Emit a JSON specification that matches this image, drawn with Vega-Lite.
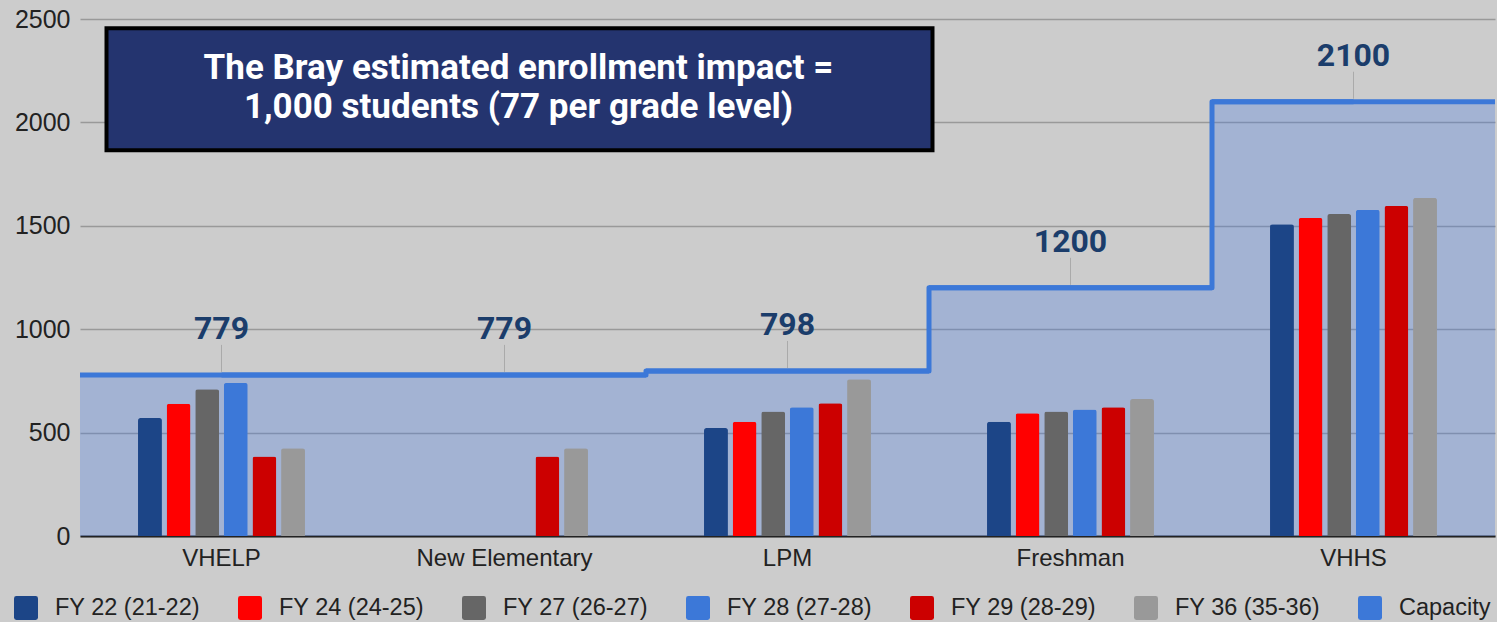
{
  "$schema": "https://vega.github.io/schema/vega-lite/v6.json",
  "width": 1415,
  "height": 517,
  "autosize": {"type": "none"},
  "padding": {"left": 80, "top": 19, "right": 2, "bottom": 86},
  "background": "#cccccc",
  "config": {
    "view": {"stroke": null},
    "font": "Liberation Sans",
    "numberFormat": "d",
    "axisY": {"grid": true, "gridColor": "#999999", "gridWidth": 1.5, "domain": false, "ticks": false, "labelFontSize": 25, "labelColor": "#222222", "labelPadding": 10, "title": null, "labelFont": "Liberation Sans"},
    "axisX": {"grid": false, "domain": true, "domainColor": "#222222", "domainWidth": 2, "ticks": false, "labelFontSize": 24, "labelColor": "#222222", "labelPadding": 10, "labelAngle": 0, "title": null, "zindex": 1, "labelFont": "Liberation Sans"}
  },
  "datasets": {
    "bars": [
      {"school": "VHELP", "series": "FY 22 (21-22)", "value": 570},
      {"school": "VHELP", "series": "FY 24 (24-25)", "value": 640},
      {"school": "VHELP", "series": "FY 27 (26-27)", "value": 710},
      {"school": "VHELP", "series": "FY 28 (27-28)", "value": 740},
      {"school": "VHELP", "series": "FY 29 (28-29)", "value": 385},
      {"school": "VHELP", "series": "FY 36 (35-36)", "value": 424},
      {"school": "New Elementary", "series": "FY 29 (28-29)", "value": 385},
      {"school": "New Elementary", "series": "FY 36 (35-36)", "value": 424},
      {"school": "LPM", "series": "FY 22 (21-22)", "value": 522},
      {"school": "LPM", "series": "FY 24 (24-25)", "value": 552},
      {"school": "LPM", "series": "FY 27 (26-27)", "value": 602},
      {"school": "LPM", "series": "FY 28 (27-28)", "value": 622},
      {"school": "LPM", "series": "FY 29 (28-29)", "value": 642},
      {"school": "LPM", "series": "FY 36 (35-36)", "value": 758},
      {"school": "Freshman", "series": "FY 22 (21-22)", "value": 552},
      {"school": "Freshman", "series": "FY 24 (24-25)", "value": 593},
      {"school": "Freshman", "series": "FY 27 (26-27)", "value": 602},
      {"school": "Freshman", "series": "FY 28 (27-28)", "value": 612},
      {"school": "Freshman", "series": "FY 29 (28-29)", "value": 622},
      {"school": "Freshman", "series": "FY 36 (35-36)", "value": 662},
      {"school": "VHHS", "series": "FY 22 (21-22)", "value": 1508},
      {"school": "VHHS", "series": "FY 24 (24-25)", "value": 1538},
      {"school": "VHHS", "series": "FY 27 (26-27)", "value": 1557},
      {"school": "VHHS", "series": "FY 28 (27-28)", "value": 1577},
      {"school": "VHHS", "series": "FY 29 (28-29)", "value": 1596},
      {"school": "VHHS", "series": "FY 36 (35-36)", "value": 1635}
    ],
    "cap": [
      {"school": "VHELP", "capacity": 779},
      {"school": "New Elementary", "capacity": 779},
      {"school": "LPM", "capacity": 798},
      {"school": "Freshman", "capacity": 1200},
      {"school": "VHHS", "capacity": 2100}
    ],
    "note": [
      {"text": "The Bray estimated enrollment impact =\n1,000 students (77 per grade level)"}
    ]
  },
  "layer": [
    {
      "data": {"name": "cap"},
      "mark": {"type": "bar", "color": "#447ce3", "opacity": 0.3, "stroke": null, "width": {"band": 1.695}},
      "encoding": {
        "x": {"field": "school", "type": "nominal", "sort": ["VHELP", "New Elementary", "LPM", "Freshman", "VHHS"], "scale": {"paddingInner": 0.41, "paddingOuter": 0.205}},
        "y": {"field": "capacity", "type": "quantitative", "scale": {"domain": [0, 2500], "nice": false}, "axis": {"values": [0, 500, 1000, 1500, 2000, 2500], "format": "d"}}
      }
    },
    {
      "data": {"name": "bars"},
      "mark": {"type": "bar", "cornerRadiusTopLeft": 2.5, "cornerRadiusTopRight": 2.5},
      "encoding": {
        "x": {"field": "school", "type": "nominal", "sort": ["VHELP", "New Elementary", "LPM", "Freshman", "VHHS"]},
        "xOffset": {"field": "series", "type": "nominal", "scale": {"domain": ["FY 22 (21-22)", "FY 24 (24-25)", "FY 27 (26-27)", "FY 28 (27-28)", "FY 29 (28-29)", "FY 36 (35-36)"], "paddingInner": 0.164, "paddingOuter": 0}},
        "y": {"field": "value", "type": "quantitative"},
        "color": {
          "field": "series", "type": "nominal",
          "scale": {
            "domain": ["FY 22 (21-22)", "FY 24 (24-25)", "FY 27 (26-27)", "FY 28 (27-28)", "FY 29 (28-29)", "FY 36 (35-36)", "Capacity"],
            "range": ["#1c4587", "#ff0000", "#666666", "#3c78d8", "#cc0000", "#999999", "#3c78d8"]
          },
          "legend": {
            "orient": "none", "legendX": -66, "legendY": 577, "direction": "horizontal", "columns": 7,
            "title": null, "symbolType": "M -0.8 -1 L 0.8 -1 Q 1 -1 1 -0.8 L 1 0.8 Q 1 1 0.8 1 L -0.8 1 Q -1 1 -1 0.8 L -1 -0.8 Q -1 -1 -0.8 -1 Z",
            "symbolSize": 576, "symbolStrokeWidth": 0, "symbolOpacity": 1,
            "labelFontSize": 23.5, "labelColor": "#222222", "labelFont": "Liberation Sans", "labelOffset": 17, "columnPadding": 38, "labelLimit": 300
          }
        }
      }
    },
    {
      "data": {"name": "cap"},
      "mark": {"type": "tick", "orient": "horizontal", "size": 283, "thickness": 5, "color": "#3c78d8", "opacity": 1},
      "encoding": {
        "x": {"field": "school", "type": "nominal", "sort": ["VHELP", "New Elementary", "LPM", "Freshman", "VHHS"]},
        "y": {"field": "capacity", "type": "quantitative"}
      }
    },
    {
      "data": {"name": "cap"},
      "mark": {"type": "line", "interpolate": "step", "strokeWidth": 5, "color": "#3c78d8", "strokeJoin": "round"},
      "encoding": {
        "x": {"field": "school", "type": "nominal", "sort": ["VHELP", "New Elementary", "LPM", "Freshman", "VHHS"]},
        "y": {"field": "capacity", "type": "quantitative"}
      }
    },
    {
      "data": {"name": "cap"},
      "mark": {"type": "rule", "color": "#aaaaaa", "strokeWidth": 1, "yOffset": -3, "y2Offset": -30},
      "encoding": {
        "x": {"field": "school", "type": "nominal", "sort": ["VHELP", "New Elementary", "LPM", "Freshman", "VHHS"]},
        "y": {"field": "capacity", "type": "quantitative"},
        "y2": {"field": "capacity"}
      }
    },
    {
      "data": {"name": "cap"},
      "mark": {"type": "text", "font": "Roboto", "fontWeight": "bold", "fontSize": 32, "color": "#1b3d6b", "baseline": "alphabetic", "dy": -36},
      "encoding": {
        "x": {"field": "school", "type": "nominal", "sort": ["VHELP", "New Elementary", "LPM", "Freshman", "VHHS"]},
        "y": {"field": "capacity", "type": "quantitative"},
        "text": {"field": "capacity", "type": "quantitative", "format": "d"}
      }
    },
    {
      "data": {"name": "note"},
      "mark": {"type": "rect", "fill": "#24346f", "stroke": "#000000", "strokeWidth": 4, "xOffset": -115, "x2Offset": -138},
      "encoding": {
        "x": {"datum": "VHELP", "type": "nominal"},
        "x2": {"datum": "Freshman"},
        "y": {"datum": 2455, "type": "quantitative"},
        "y2": {"datum": 1865}
      }
    },
    {
      "data": {"name": "note"},
      "mark": {"type": "text", "font": "Roboto", "fontWeight": "bold", "fontSize": 35, "color": "#ffffff", "baseline": "middle", "align": "center", "lineBreak": "\n", "lineHeight": 39, "dx": 14},
      "encoding": {
        "x": {"datum": "New Elementary", "type": "nominal"},
        "y": {"datum": 2263, "type": "quantitative"},
        "text": {"field": "text", "type": "nominal"}
      }
    }
  ]
}
